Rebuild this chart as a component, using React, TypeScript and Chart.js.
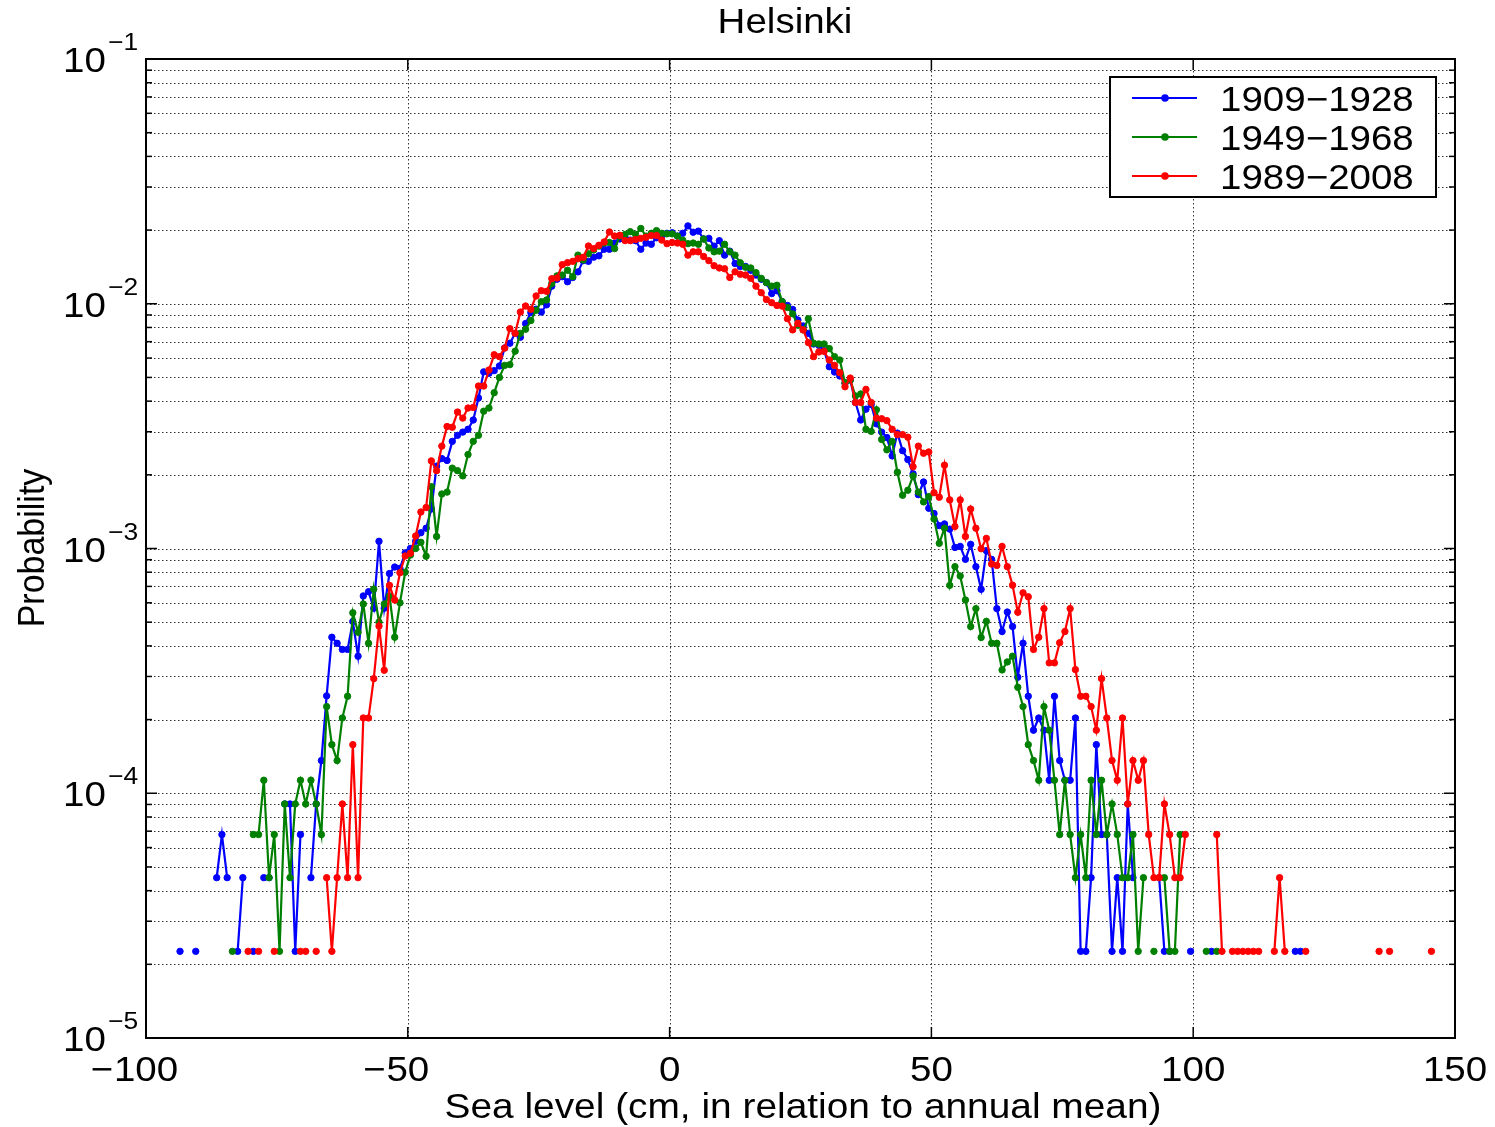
import React, { useEffect, useRef } from "react";
import { Chart, registerables } from "chart.js";

Chart.register(...registerables);

const W = 1495;
const H = 1127;
const FONT = '"Liberation Sans", Arial, Helvetica, sans-serif';
const SX = 1.1;

// bin centres run from -93.5 cm in 1 cm steps
const BIN_START = -93.5;

const TITLE = "Helsinki";
const X_LABEL = "Sea level (cm, in relation to annual mean)";
const Y_LABEL = "Probability";
const SERIES_LABELS = ["1909−1928", "1949−1968", "1989−2008"];
const SERIES_COLORS = ["#0000ff", "#008000", "#ff0000"];

const X_TICKS = [-100, -50, 0, 50, 100, 150];
const Y_DECADES = [-5, -4, -3, -2, -1];
const Y_MINOR = [2, 3, 4, 5, 6, 7, 8, 9];

const blue1909 = [
  2.26e-5, null, null, 2.26e-5, null, null, null, 4.52e-5, 6.78e-5, 4.52e-5,
  null, 2.26e-5, 4.52e-5, null, 2.26e-5, null, 4.52e-5, 4.52e-5, null, null,
  9.04e-5, 9.04e-5, 2.26e-5, 6.78e-5, null, 4.52e-5, 9.04e-5, 1.36e-4, 2.5e-4, 4.34e-4,
  4.1e-4, 3.87e-4, 3.87e-4, 5.03e-4, 3.63e-4, 6.4e-4, 6.66e-4, 5.7e-4, 1.07e-3, 5.7e-4,
  7.9e-4, 8.4e-4, 8.3e-4, 9.6e-4, 1.0e-3, 1.07e-3, 1.16e-3, 1.21e-3, 1.45e-3, 2.17e-3,
  2.33e-3, 2.29e-3, 2.74e-3, 2.9e-3, 2.99e-3, 3.07e-3, 3.35e-3, 4.12e-3, 5.27e-3, 5.2e-3,
  5.33e-3, 5.57e-3, 6.6e-3, 6.9e-3, 7.57e-3, 7.3e-3, 8.3e-3, 9.2e-3, 9.5e-3, 9.25e-3,
  9.9e-3, 1.18e-2, 1.26e-2, 1.29e-2, 1.23e-2, 1.28e-2, 1.35e-2, 1.5e-2, 1.49e-2, 1.55e-2,
  1.57e-2, 1.67e-2, 1.67e-2, 1.77e-2, 1.84e-2, 1.86e-2, 1.82e-2, 1.81e-2, 1.67e-2, 1.77e-2,
  1.75e-2, 1.86e-2, 1.89e-2, 1.94e-2, 1.95e-2, 1.89e-2, 1.94e-2, 2.08e-2, 1.96e-2, 1.98e-2,
  1.84e-2, 1.85e-2, 1.72e-2, 1.81e-2, 1.58e-2, 1.64e-2, 1.46e-2, 1.42e-2, 1.42e-2, 1.37e-2,
  1.31e-2, 1.26e-2, 1.22e-2, 1.1e-2, 1.13e-2, 1.02e-2, 9.84e-3, 9.48e-3, 8.58e-3, 8.11e-3,
  7.57e-3, 6.85e-3, 6.76e-3, 6.43e-3, 5.53e-3, 5.26e-3, 5.07e-3, 4.73e-3, 4.88e-3, 3.95e-3,
  3.35e-3, 3.71e-3, 3.87e-3, 3.23e-3, 2.99e-3, 2.84e-3, 2.39e-3, 2.96e-3, 2.51e-3, 2.31e-3,
  2.02e-3, 1.66e-3, 1.87e-3, 1.46e-3, 1.39e-3, 1.24e-3, 1.26e-3, 1.2e-3, 1.01e-3, 1.02e-3,
  9.03e-4, 1.04e-3, 8.43e-4, 6.81e-4, 9.8e-4, 9.03e-4, 5.68e-4, 4.58e-4, 5.5e-4, 4.8e-4,
  2.98e-4, 4.1e-4, 2.49e-4, 1.81e-4, 2.03e-4, 1.81e-4, 1.13e-4, 2.49e-4, 1.36e-4, 1.13e-4,
  1.13e-4, 2.03e-4, 2.26e-5, 2.26e-5, 4.52e-5, 1.58e-4, 6.78e-5, 6.78e-5, 2.26e-5, 4.52e-5,
  2.26e-5, 9.04e-5, 4.52e-5, null, null, null, null, 4.52e-5, 2.26e-5, 2.26e-5,
  null, null, null, 2.26e-5, null, null, null, 2.26e-5, null, null,
  null, null, null, null, null, null, null, null, null, null,
  null, null, null, 2.26e-5, 2.26e-5, null, null, null, null, null,
  null, null, null, null, null, null, null, null, null, null,
  null, null, null, null, null, null, null, null, null, null,
];

const green1949 = [
  null, null, null, null, null, null, null, null, null, null,
  2.26e-5, null, null, null, 6.78e-5, 6.78e-5, 1.13e-4, 4.52e-5, 6.78e-5, 2.26e-5,
  9.04e-5, 4.52e-5, 9.04e-5, 1.13e-4, 9.04e-5, 1.13e-4, 9.04e-5, 6.78e-5, 2.26e-4, 1.58e-4,
  1.36e-4, 2.03e-4, 2.49e-4, 5.46e-4, 4.55e-4, 5.93e-4, 4.1e-4, 6.82e-4, 5.0e-4, 5.93e-4,
  6.4e-4, 4.34e-4, 6.0e-4, 8.0e-4, 9.4e-4, 1.0e-3, 1.06e-3, 9.3e-4, 1.79e-3, 1.12e-3,
  1.67e-3, 1.7e-3, 2.13e-3, 2.08e-3, 1.98e-3, 2.42e-3, 2.74e-3, 2.9e-3, 3.64e-3, 3.75e-3,
  4.33e-3, 5.0e-3, 5.6e-3, 5.64e-3, 6.4e-3, 7.57e-3, 7.87e-3, 8.54e-3, 9.4e-3, 1.02e-2,
  1.036e-2, 1.21e-2, 1.3e-2, 1.31e-2, 1.37e-2, 1.29e-2, 1.58e-2, 1.51e-2, 1.6e-2, 1.66e-2,
  1.72e-2, 1.77e-2, 1.78e-2, 1.68e-2, 1.89e-2, 1.92e-2, 1.97e-2, 1.92e-2, 2.03e-2, 1.89e-2,
  1.94e-2, 1.99e-2, 1.94e-2, 1.93e-2, 1.93e-2, 1.89e-2, 1.82e-2, 1.76e-2, 1.77e-2, 1.75e-2,
  1.84e-2, 1.69e-2, 1.63e-2, 1.64e-2, 1.75e-2, 1.63e-2, 1.58e-2, 1.47e-2, 1.41e-2, 1.4e-2,
  1.34e-2, 1.27e-2, 1.22e-2, 1.18e-2, 1.19e-2, 1.02e-2, 9.66e-3, 9.09e-3, 8.17e-3, 7.82e-3,
  8.68e-3, 6.9e-3, 6.85e-3, 6.85e-3, 6.56e-3, 6.08e-3, 5.89e-3, 4.76e-3, 4.88e-3, 4.2e-3,
  4.28e-3, 3.07e-3, 3.01e-3, 3.69e-3, 2.79e-3, 2.53e-3, 2.74e-3, 2.05e-3, 1.65e-3, 1.73e-3,
  1.98e-3, 1.7e-3, 1.55e-3, 1.63e-3, 1.32e-3, 1.05e-3, 1.21e-3, 7.07e-4, 8.43e-4, 7.72e-4,
  6.16e-4, 4.8e-4, 5.68e-4, 4.33e-4, 5.04e-4, 4.1e-4, 4.1e-4, 3.19e-4, 3.44e-4, 3.63e-4,
  2.71e-4, 2.26e-4, 1.58e-4, 1.36e-4, 1.13e-4, 2.26e-4, 1.81e-4, 1.13e-4, 6.78e-5, 1.13e-4,
  6.78e-5, 4.52e-5, 6.78e-5, 4.52e-5, 1.13e-4, 6.78e-5, 1.13e-4, 6.78e-5, 9.04e-5, 6.78e-5,
  4.52e-5, 4.52e-5, 6.78e-5, 2.26e-5, 4.52e-5, null, 2.26e-5, null, 4.52e-5, 2.26e-5,
  2.26e-5, 6.78e-5, null, null, null, null, 2.26e-5, null, 2.26e-5, null,
  null, null, null, null, null, null, null, null, null, null,
  null, null, null, null, null, null, null, null, null, null,
  null, null, null, null, null, null, null, null, null, null,
  null, null, null, null, null, null, null, null, null, null,
];

const red1989 = [
  null, null, null, null, null, null, null, null, null, null,
  null, null, null, 2.26e-5, null, 2.26e-5, null, null, 2.26e-5, null,
  null, null, null, 2.26e-5, 2.26e-5, null, 2.26e-5, null, 4.52e-5, 2.26e-5,
  4.52e-5, 9.04e-5, 4.52e-5, 1.58e-4, 4.52e-5, 2.03e-4, 2.03e-4, 2.94e-4, 4.82e-4, 3.18e-4,
  7.07e-4, 6.16e-4, 7.96e-4, 9.32e-4, 9.56e-4, 1.125e-3, 1.41e-3, 1.47e-3, 2.28e-3, 2.08e-3,
  2.62e-3, 3.15e-3, 3.13e-3, 3.61e-3, 3.41e-3, 3.75e-3, 3.77e-3, 4.61e-3, 4.61e-3, 5.36e-3,
  6.19e-3, 6.08e-3, 6.59e-3, 7.91e-3, 7.57e-3, 9.25e-3, 9.79e-3, 9.49e-3, 1.076e-2, 1.131e-2,
  1.124e-2, 1.266e-2, 1.274e-2, 1.444e-2, 1.472e-2, 1.49e-2, 1.528e-2, 1.548e-2, 1.722e-2, 1.68e-2,
  1.733e-2, 1.788e-2, 1.964e-2, 1.891e-2, 1.904e-2, 1.811e-2, 1.811e-2, 1.83e-2, 1.85e-2, 1.87e-2,
  1.9e-2, 1.9e-2, 1.82e-2, 1.76e-2, 1.78e-2, 1.77e-2, 1.75e-2, 1.58e-2, 1.63e-2, 1.63e-2,
  1.56e-2, 1.5e-2, 1.43e-2, 1.4e-2, 1.39e-2, 1.28e-2, 1.35e-2, 1.32e-2, 1.31e-2, 1.27e-2,
  1.18e-2, 1.11e-2, 1.04e-2, 1.01e-2, 9.84e-3, 9.78e-3, 8.69e-3, 7.82e-3, 8.32e-3, 7.82e-3,
  6.94e-3, 6.08e-3, 6.35e-3, 6.39e-3, 5.89e-3, 5.6e-3, 5.23e-3, 4.58e-3, 4.97e-3, 3.95e-3,
  3.95e-3, 4.47e-3, 3.95e-3, 3.41e-3, 3.39e-3, 3.33e-3, 3.07e-3, 2.92e-3, 2.92e-3, 2.85e-3,
  2.16e-3, 2.62e-3, 2.45e-3, 2.48e-3, 1.69e-3, 1.62e-3, 2.19e-3, 1.58e-3, 1.23e-3, 1.58e-3,
  1.12e-3, 1.45e-3, 1.21e-3, 9.98e-4, 1.1e-3, 8.64e-4, 8.53e-4, 1.02e-3, 8.43e-4, 7.08e-4,
  5.49e-4, 6.59e-4, 6.35e-4, 3.87e-4, 4.34e-4, 5.68e-4, 3.41e-4, 3.41e-4, 4.12e-4, 4.58e-4,
  5.68e-4, 3.2e-4, 2.49e-4, 2.49e-4, 2.26e-4, 1.81e-4, 2.94e-4, 2.03e-4, 1.36e-4, 1.13e-4,
  2.03e-4, 9.04e-5, 1.36e-4, 1.13e-4, 1.36e-4, 6.78e-5, 4.52e-5, 4.52e-5, 9.04e-5, 6.78e-5,
  4.52e-5, 4.52e-5, 6.78e-5, null, null, null, null, null, 6.78e-5, 2.26e-5,
  null, 2.26e-5, 2.26e-5, 2.26e-5, 2.26e-5, 2.26e-5, 2.26e-5, null, null, 2.26e-5,
  4.52e-5, 2.26e-5, null, null, null, 2.26e-5, null, null, null, null,
  null, null, null, null, null, null, null, null, null, 2.26e-5,
  null, 2.26e-5, null, null, null, null, null, null, null, 2.26e-5,
];

const SERIES_VALUES = [blue1909, green1949, red1989];

function drawText(ctx: CanvasRenderingContext2D, text: string, x: number, y: number, align: CanvasTextAlign, size: number, sx = SX) {
  ctx.save();
  ctx.font = `${size}px ${FONT}`;
  ctx.translate(x, y);
  ctx.scale(sx, 1);
  ctx.textAlign = align;
  ctx.textBaseline = "alphabetic";
  ctx.fillStyle = "#000";
  ctx.fillText(text, 0, 0);
  ctx.restore();
}

function textWidth(ctx: CanvasRenderingContext2D, text: string, size: number, sx = SX) {
  ctx.save();
  ctx.font = `${size}px ${FONT}`;
  const w = ctx.measureText(text).width * sx;
  ctx.restore();
  return w;
}

function seg(ctx: CanvasRenderingContext2D, x1: number, y1: number, x2: number, y2: number) {
  ctx.beginPath();
  ctx.moveTo(x1, y1);
  ctx.lineTo(x2, y2);
  ctx.stroke();
}

const gridPlugin = {
  id: "dottedGrid",
  beforeDatasetsDraw(chart: any) {
    const { ctx, chartArea: a, scales } = chart;
    const xs = scales.x;
    const ys = scales.y;
    ctx.save();
    ctx.strokeStyle = "rgba(0,0,0,0.8)";
    ctx.lineWidth = 1;
    ctx.setLineDash([1.5, 2.5]);
    for (const t of X_TICKS) {
      const px = Math.round(xs.getPixelForValue(t)) + 0.5;
      if (px <= a.left + 2 || px >= a.right - 2) continue;
      seg(ctx, px, a.top, px, a.bottom);
    }
    for (const e of Y_DECADES) {
      const base = Math.pow(10, e);
      const vals = [base, ...Y_MINOR.map((m) => m * base)];
      for (const v of vals) {
        const py = Math.round(ys.getPixelForValue(v)) + 0.5;
        if (py <= a.top + 2 || py >= a.bottom - 2) continue;
        seg(ctx, a.left, py, a.right, py);
      }
    }
    ctx.restore();
  },
  afterDatasetsDraw(chart: any) {
    const { ctx, chartArea: a, scales } = chart;
    const xs = scales.x;
    const ys = scales.y;
    ctx.save();
    ctx.setLineDash([]);
    ctx.strokeStyle = "#000";
    ctx.lineWidth = 2;
    ctx.strokeRect(a.left, a.top, a.right - a.left, a.bottom - a.top);
    ctx.lineWidth = 1.5;
    // x ticks on bottom and top
    for (const t of X_TICKS) {
      const px = xs.getPixelForValue(t);
      seg(ctx, px, a.bottom, px, a.bottom - 11);
      seg(ctx, px, a.top, px, a.top + 11);
    }
    // y ticks on left and right
    for (const e of Y_DECADES) {
      const base = Math.pow(10, e);
      const py = ys.getPixelForValue(base);
      seg(ctx, a.left, py, a.left + 11, py);
      seg(ctx, a.right, py, a.right - 11, py);
      for (const m of Y_MINOR) {
        const pm = ys.getPixelForValue(m * base);
        seg(ctx, a.left, pm, a.left + 6, pm);
        seg(ctx, a.right, pm, a.right - 6, pm);
      }
    }

    // y tick labels
    for (const e of Y_DECADES) {
      const py = ys.getPixelForValue(Math.pow(10, e));
      drawText(ctx, "10", 63, py + 13, "left", 35);
      drawText(ctx, "−" + String(-e), 108, py - 9, "left", 24);
    }

    // x tick labels
    for (const t of X_TICKS) {
      const px = xs.getPixelForValue(t);
      const digits = String(Math.abs(t));
      drawText(ctx, digits, px, a.bottom + 43, "center", 35);
      if (t < 0) {
        const w = textWidth(ctx, digits, 35);
        drawText(ctx, "−", px - w / 2 - 1, a.bottom + 43, "right", 35);
      }
    }

    // title and axis labels
    drawText(ctx, TITLE, 785, 33, "center", 35);
    drawText(ctx, X_LABEL, 803, 1118, "center", 35, 1.11);
    ctx.save();
    ctx.translate(44, 548);
    ctx.rotate(-Math.PI / 2);
    ctx.scale(1, SX);
    ctx.font = `34px ${FONT}`;
    ctx.textAlign = "center";
    ctx.fillStyle = "#000";
    ctx.fillText(Y_LABEL, 0, 0);
    ctx.restore();

    // legend
    const lx = 1110, ly = 77, lw = 326, lh = 120;
    ctx.fillStyle = "#fff";
    ctx.fillRect(lx, ly, lw, lh);
    ctx.strokeStyle = "#000";
    ctx.lineWidth = 2;
    ctx.strokeRect(lx, ly, lw, lh);
    SERIES_LABELS.forEach((lab, i) => {
      const ry = 98 + i * 39;
      ctx.strokeStyle = SERIES_COLORS[i];
      ctx.fillStyle = SERIES_COLORS[i];
      ctx.lineWidth = 2;
      seg(ctx, 1132, ry, 1197, ry);
      ctx.beginPath();
      ctx.arc(1165, ry, 3.8, 0, Math.PI * 2);
      ctx.fill();
      drawText(ctx, lab, 1220, ry + 13, "left", 35);
    });
    ctx.restore();
  },
};

export default function App() {
  const ref = useRef<HTMLCanvasElement | null>(null);

  useEffect(() => {
    if (!ref.current) return;
    const order = [2, 1, 0];
    const datasets = SERIES_VALUES.map((vals, s) => ({
      label: SERIES_LABELS[s],
      data: vals.map((v, i) => ({ x: BIN_START + i, y: v })),
      borderColor: SERIES_COLORS[s],
      backgroundColor: SERIES_COLORS[s],
      pointBackgroundColor: SERIES_COLORS[s],
      pointBorderColor: SERIES_COLORS[s],
      borderWidth: 2.2,
      pointRadius: 3.2,
      pointBorderWidth: 1,
      pointHoverRadius: 3.2,
      spanGaps: false,
      tension: 0,
      order: order[s],
    }));
    const chart = new Chart(ref.current, {
      type: "line",
      data: { datasets } as any,
      options: {
        responsive: false,
        animation: false,
        devicePixelRatio: 1,
        layout: { padding: { left: 146, top: 59, right: 40, bottom: 89 } },
        plugins: {
          legend: { display: false },
          title: { display: false },
          tooltip: { enabled: false },
        },
        events: [],
        scales: {
          x: { type: "linear", min: -100, max: 150, display: false },
          y: { type: "logarithmic", min: 1e-5, max: 1e-1, display: false },
        },
      } as any,
      plugins: [gridPlugin],
    });
    return () => chart.destroy();
  }, []);

  return (
    <div style={{ position: "absolute", left: 0, top: 0, width: W, height: H, background: "#fff" }}>
      <canvas ref={ref} width={W} height={H} style={{ display: "block", width: W, height: H }} />
    </div>
  );
}
